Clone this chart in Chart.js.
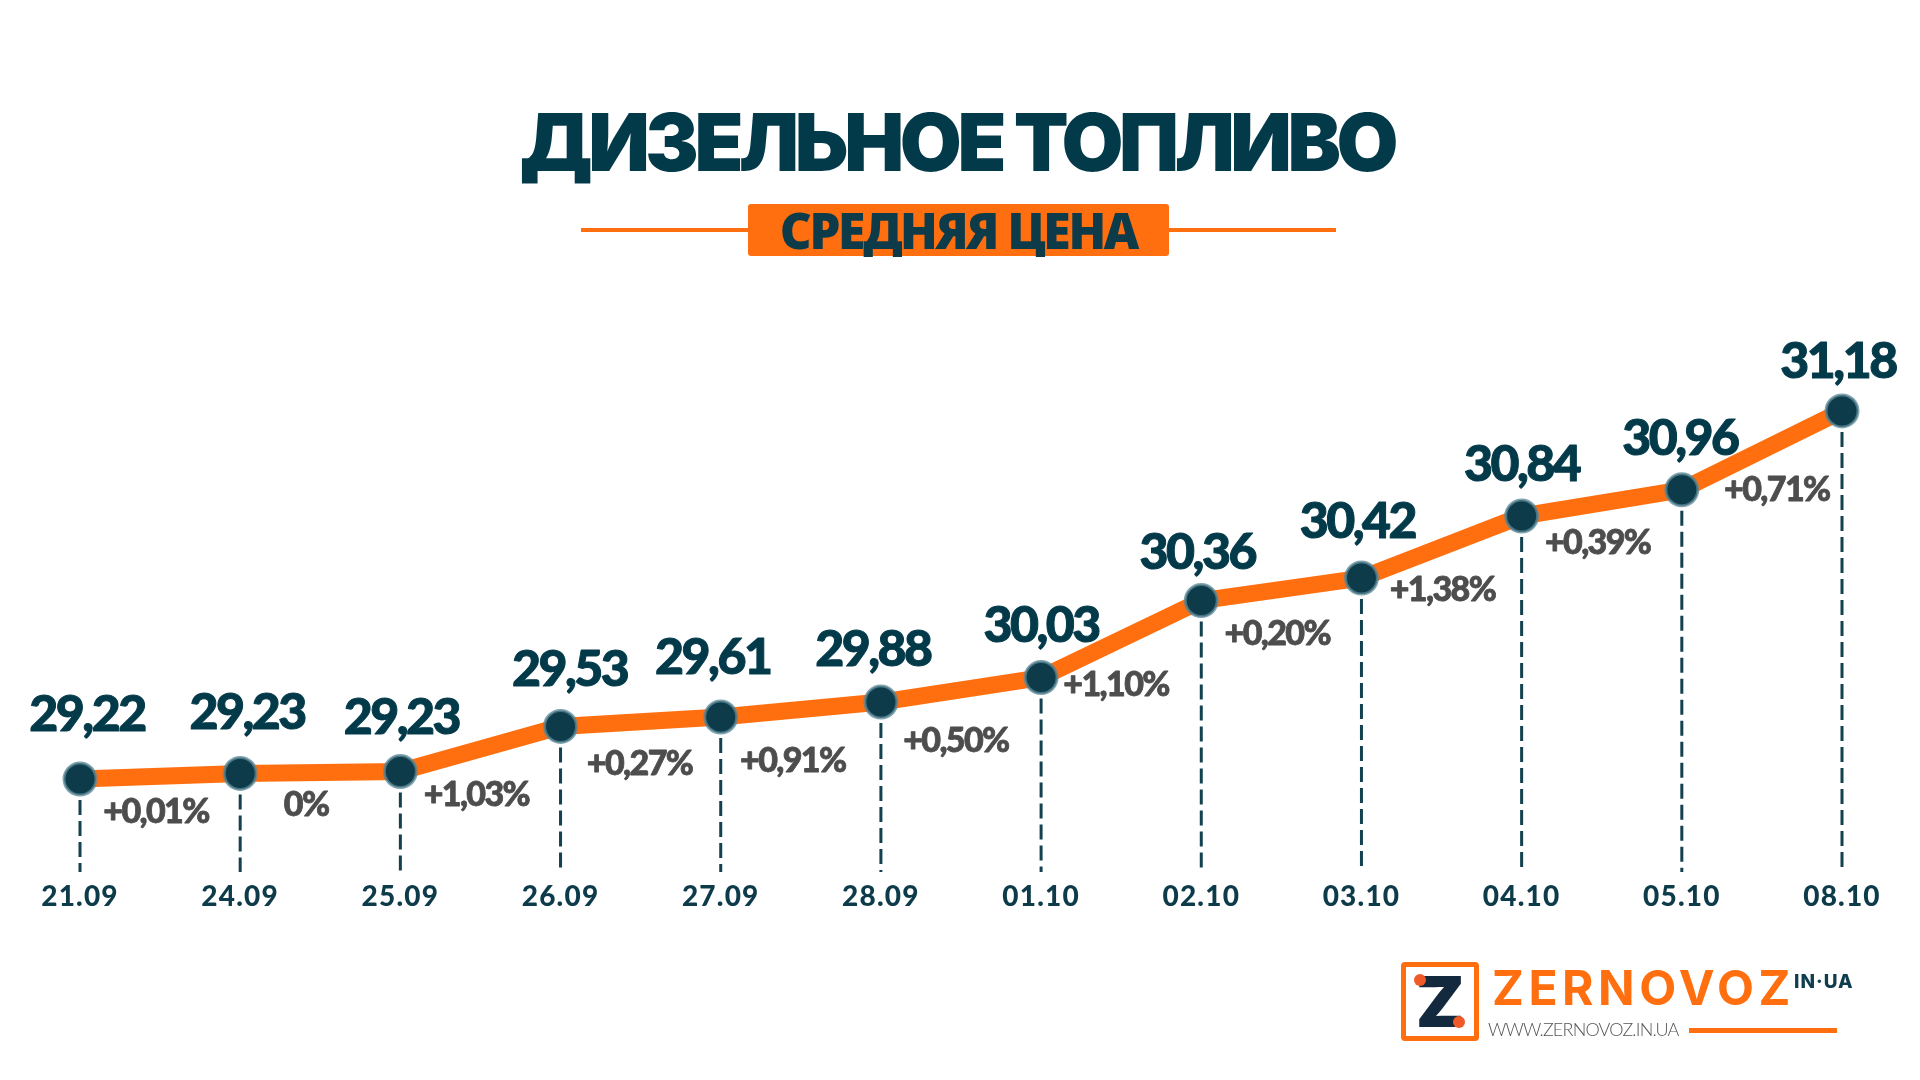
<!DOCTYPE html>
<html lang="ru">
<head>
<meta charset="utf-8">
<title>Дизельное топливо</title>
<script src="https://cdn.jsdelivr.net/npm/chart.js@4"></script>
<style>
  html, body { margin: 0; width: 1920px; height: 1080px; background: #fff; overflow: hidden; }
  #chart { position: absolute; left: 0; top: 0; }
  .abs { position: absolute; white-space: nowrap; }
  #title { left: 457px; width: 1000px; top: 92px; text-align: center; font: 900 80px/100px Inter, sans-serif; letter-spacing: -4.4px; color: #033a4a; }
  #rule { left: 581px; width: 755px; top: 228px; height: 4px; background: #ff6f0f; }
  #badge { left: 748px; width: 421px; top: 204px; height: 52px; border-radius: 3px; background: #ff6f0f; text-align: center; font: 900 49px/52px "Noto Sans", sans-serif; letter-spacing: -2.4px; color: #0d3b4a; }
  #logoBox { left: 1401px; top: 962px; width: 68px; height: 69px; border: 5px solid #ff6f0f; border-radius: 4px; }
  #logoZ { left: 1401px; top: 962px; width: 78px; text-align: center; font: 900 70px/79px Inter, sans-serif; color: #13293d; }
  .dot { width: 12px; height: 12px; border-radius: 50%; background: #f05a28; }
  #brand { left: 1492px; top: 960px; font: 700 48px/56px Inter, sans-serif; letter-spacing: 4.5px; color: #ff6f0f; }
  #brandSfx { left: 1794px; top: 971px; font: 800 19px/22px Inter, sans-serif; letter-spacing: 1px; color: #0f3f4e; }
  #site { left: 1488px; top: 1017px; font: 300 18px/24px Lato, sans-serif; letter-spacing: -0.8px; color: #555; }
  #siteRule { left: 1689px; width: 148px; top: 1028px; height: 5px; background: #ff6f0f; }
</style>
</head>
<body>
<canvas id="chart" width="1920" height="1080"></canvas>
<div class="abs" id="title">ДИЗЕЛЬНОЕ ТОПЛИВО</div>
<div class="abs" id="rule"></div>
<div class="abs" id="badge">СРЕДНЯЯ ЦЕНА</div>
<div class="abs" id="logoBox"></div>
<div class="abs" id="logoZ">Z</div>
<div class="abs dot" style="left:1414px;top:974px"></div>
<div class="abs dot" style="left:1453px;top:1016px"></div>
<div class="abs" id="brand">ZERNOVOZ</div>
<div class="abs" id="brandSfx">IN·UA</div>
<div class="abs" id="site">WWW.ZERNOVOZ.IN.UA</div>
<div class="abs" id="siteRule"></div>
<script>
const dates = ['21.09', '24.09', '25.09', '26.09', '27.09', '28.09', '01.10', '02.10', '03.10', '04.10', '05.10', '08.10'];
// printed prices
const priceLabels = ['29,22', '29,23', '29,23', '29,53', '29,61', '29,88', '30,03', '30,36', '30,42', '30,84', '30,96', '31,18'];
// printed change between neighbouring days
const changeLabels = ['+0,01%', '0%', '+1,03%', '+0,27%', '+0,91%', '+0,50%', '+1,10%', '+0,20%', '+1,38%', '+0,39%', '+0,71%'];
// height of the line as drawn in the picture (the original is not to scale with its printed prices)
const lineLevels = [29.22, 29.25, 29.26, 29.50, 29.55, 29.63, 29.76, 30.17, 30.29, 30.62, 30.76, 31.18];

const DARK = '#0d3b4a';
const ORANGE = '#ff6f0f';

// label nudges relative to the point, by eye
const priceNudge = [[7, -64], [7, -61], [1, -54], [9, -57], [-8, -59], [-8, -52], [0, -52], [-4, -48], [-4, -56], [0, -51], [-2, -51], [-4, -49]];
const changeNudge = [[76, 33], [66, 32], [76, 24], [79, 38], [72, 44], [75, 39], [75, 7], [76, 33], [81, 12], [76, 27], [95, 0]];

const dropLines = {
  id: 'dropLines',
  beforeDraw(chart) {
    chart.ctx.letterSpacing = '1.2px';  // for the date ticks
  },
  beforeDatasetsDraw(chart) {
    const ctx = chart.ctx;
    const pts = chart.getDatasetMeta(0).data;
    ctx.save();
    ctx.strokeStyle = '#13414f';
    ctx.lineWidth = 3;
    ctx.setLineDash([15, 6]);
    pts.forEach(p => {
      ctx.beginPath();
      ctx.moveTo(p.x, p.y);
      ctx.lineTo(p.x, chart.chartArea.bottom);
      ctx.stroke();
    });
    ctx.restore();
  }
};

const pointLabels = {
  id: 'pointLabels',
  afterDatasetsDraw(chart) {
    const ctx = chart.ctx;
    const pts = chart.getDatasetMeta(0).data;
    ctx.save();
    ctx.textAlign = 'center';
    ctx.textBaseline = 'middle';
    ctx.lineJoin = 'round';
    ctx.font = '900 50px Lato';
    ctx.letterSpacing = '-2.5px';
    ctx.fillStyle = '#033a4a';
    ctx.strokeStyle = '#033a4a';
    ctx.lineWidth = 1;
    priceLabels.forEach((t, i) => {
      const x = pts[i].x + priceNudge[i][0], y = pts[i].y + priceNudge[i][1];
      ctx.fillText(t, x, y);
      ctx.strokeText(t, x, y);
    });
    ctx.font = '900 34px Lato';
    ctx.letterSpacing = '-1.6px';
    ctx.fillStyle = '#4d4d4d';
    ctx.strokeStyle = '#4d4d4d';
    ctx.lineWidth = 0.8;
    changeLabels.forEach((t, i) => {
      const x = pts[i].x + changeNudge[i][0], y = pts[i].y + changeNudge[i][1];
      ctx.fillText(t, x, y);
      ctx.strokeText(t, x, y);
    });
    ctx.restore();
  }
};

new Chart(document.getElementById('chart'), {
  type: 'line',
  data: {
    labels: dates,
    datasets: [{
      data: lineLevels,
      borderColor: ORANGE,
      borderWidth: 17,
      tension: 0,
      pointRadius: 16,
      pointBackgroundColor: DARK,
      pointBorderColor: 'rgba(90,135,150,0.75)',
      pointBorderWidth: 3
    }]
  },
  options: {
    responsive: false,
    animation: false,
    layout: { padding: { left: 80, right: 78, top: 200 } },
    plugins: { legend: { display: false }, tooltip: { enabled: false } },
    scales: {
      x: {
        offset: false,
        afterFit(scale) { scale.height = 208; },
        grid: { display: false },
        border: { display: false },
        ticks: { color: DARK, padding: 0, maxRotation: 0, autoSkip: false, font: { family: 'Lato', weight: '900', size: 28 } }
      },
      y: { display: false, min: 28.725, max: 32.303 }
    }
  },
  plugins: [dropLines, pointLabels]
});
</script>
</body>
</html>
